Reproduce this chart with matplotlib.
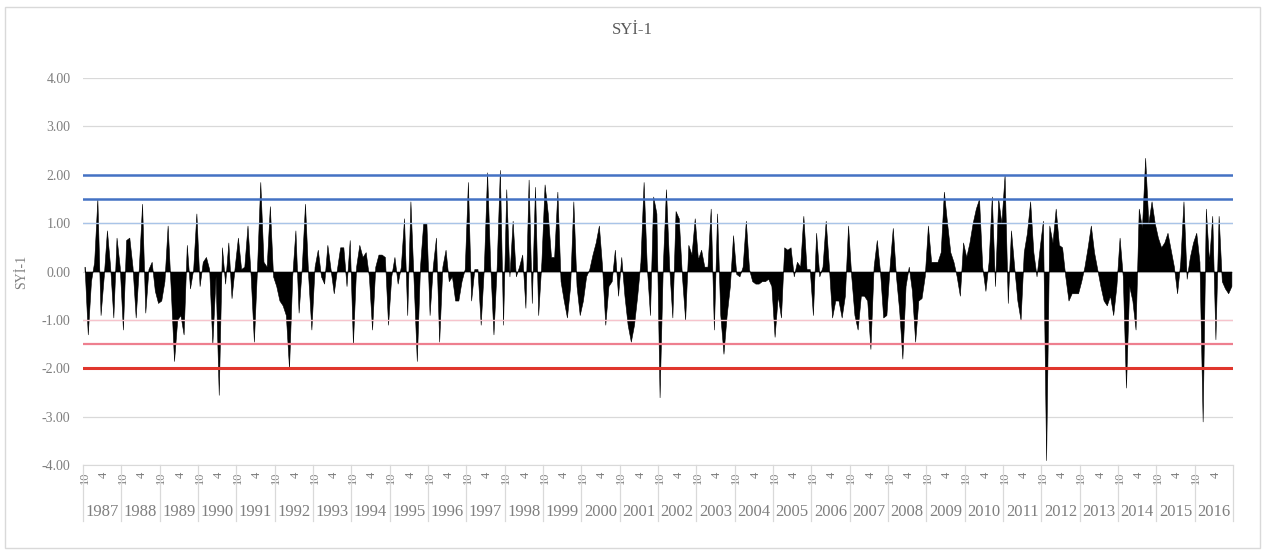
import matplotlib.pyplot as plt
import matplotlib.patches as patches
import numpy as np

# water years, Oct..Sep, SYI-1 values
years = list(range(1987, 2017))
month_labels = ["10", "4"]
spi = [
    [0.1, -1.3, -0.2, 0.2, 1.5, -0.9, -0.1, 0.85, 0.1, -0.95, 0.7, 0.1],
    [-1.2, 0.65, 0.7, 0.1, -0.95, 0.1, 1.4, -0.85, 0.05, 0.2, -0.4, -0.65],
    [-0.6, -0.2, 0.95, -0.4, -1.85, -1.0, -0.9, -1.3, 0.55, -0.35, 0.05, 1.2],
    [-0.3, 0.2, 0.3, 0.05, -1.5, -0.1, -2.55, 0.5, -0.25, 0.6, -0.55, 0.1],
    [0.7, 0.05, 0.1, 0.95, -0.1, -1.45, 0.1, 1.85, 0.2, 0.1, 1.35, -0.1],
    [-0.3, -0.6, -0.7, -0.9, -2.0, -0.1, 0.85, -0.85, 0.1, 1.4, -0.1, -1.2],
    [0.1, 0.45, -0.1, -0.25, 0.55, 0.05, -0.45, 0.05, 0.5, 0.5, -0.3, 0.65],
    [-1.5, 0.1, 0.55, 0.3, 0.4, -0.1, -1.2, 0.1, 0.35, 0.35, 0.3, -1.1],
    [-0.1, 0.3, -0.25, 0.1, 1.1, -0.9, 1.45, -0.2, -1.85, 0.1, 1.0, 1.0],
    [-0.9, 0.1, 0.7, -1.45, 0.1, 0.45, -0.2, -0.1, -0.6, -0.6, -0.2, 0.05],
    [1.85, -0.6, 0.05, 0.05, -1.1, 0.1, 2.05, 0.1, -1.3, 0.1, 2.1, -1.1],
    [1.7, -0.1, 1.05, -0.1, 0.1, 0.35, -0.75, 1.9, -0.65, 1.75, -0.9, 0.2],
    [1.8, 1.2, 0.3, 0.3, 1.65, -0.2, -0.6, -0.95, -0.3, 1.45, -0.3, -0.9],
    [-0.6, -0.1, 0.05, 0.35, 0.6, 0.95, 0.1, -1.1, -0.3, -0.2, 0.45, -0.5],
    [0.3, -0.5, -1.1, -1.45, -1.1, -0.5, 0.2, 1.85, 0.1, -0.9, 1.55, 1.2],
    [-2.6, 0.1, 1.7, 0.1, -0.95, 1.25, 1.1, -0.1, -1.0, 0.55, 0.35, 1.1],
    [0.25, 0.45, 0.1, 0.1, 1.3, -1.2, 1.2, -0.9, -1.7, -0.9, -0.3, 0.75],
    [-0.05, -0.1, 0.1, 1.05, 0.05, -0.2, -0.25, -0.25, -0.2, -0.2, -0.15, -0.3],
    [-1.35, -0.5, -0.95, 0.5, 0.45, 0.5, -0.1, 0.2, 0.1, 1.15, 0.05, 0.05],
    [-0.9, 0.8, -0.1, 0.1, 1.05, 0.1, -0.95, -0.6, -0.6, -0.95, -0.5, 0.95],
    [-0.1, -0.9, -1.2, -0.5, -0.5, -0.6, -1.6, 0.1, 0.65, 0.0, -0.95, -0.9],
    [0.1, 0.9, -0.1, -0.8, -1.8, -0.3, 0.1, -0.4, -1.45, -0.6, -0.55, -0.1],
    [0.95, 0.2, 0.2, 0.2, 0.4, 1.65, 1.0, 0.4, 0.2, -0.1, -0.5, 0.6],
    [0.3, 0.6, 1.0, 1.3, 1.5, 0.1, -0.4, 0.2, 1.55, -0.3, 1.5, 1.0],
    [2.0, -0.65, 0.85, 0.1, -0.6, -1.0, 0.4, 0.8, 1.45, 0.4, -0.1, 0.5],
    [1.05, -3.9, 0.95, 0.6, 1.3, 0.55, 0.5, -0.1, -0.6, -0.45, -0.45, -0.45],
    [-0.2, 0.1, 0.5, 0.95, 0.4, 0.05, -0.3, -0.6, -0.7, -0.5, -0.9, -0.3],
    [0.7, -0.1, -2.4, -0.3, -0.6, -1.2, 1.3, 0.9, 2.35, 1.0, 1.45, 1.0],
    [0.7, 0.5, 0.6, 0.8, 0.45, 0.1, -0.45, 0.2, 1.45, -0.15, 0.3, 0.6],
    [0.8, 0.2, -3.1, 1.3, 0.2, 1.15, -1.4, 1.15, -0.2, -0.35, -0.45, -0.3],
]
thresholds = [2.0, 1.5, 1.0, -1.0, -1.5, -2.0]
threshold_colors = ["#4472c4", "#4472c4", "#a9c4e8", "#f6c3cc", "#ee7f8f", "#e0362c"]
threshold_widths = [1.8, 1.8, 1.0, 1.0, 1.6, 2.2]

values = np.array(spi).ravel()
x = np.arange(len(values))

plt.rcParams["font.family"] = ["Liberation Serif", "DejaVu Serif"]
gray = "#7f7f7f"

fig = plt.figure(figsize=(12.65, 5.52), dpi=100)
ax = fig.add_axes([0.0656, 0.1576, 0.9091, 0.7011])

# chart area border
fig.patches.append(
    patches.Rectangle((0.004, 0.008), 0.992, 0.98, transform=fig.transFigure,
                      fill=False, edgecolor="#d9d9d9", linewidth=1.0)
)

ax.fill_between(x, values, 0, color="black", linewidth=0.4, edgecolor="black")
for t, c, w in zip(thresholds, threshold_colors, threshold_widths):
    ax.axhline(t, color=c, linewidth=w, zorder=3)

ax.set_xlim(-0.5, len(values) - 0.5)
ax.set_ylim(-4, 4)
ax.set_yticks(np.arange(-4, 4.01, 1))
ax.set_yticklabels([f"{v:.2f}" for v in np.arange(-4, 4.01, 1)])
ax.yaxis.grid(True, color="#d9d9d9", linewidth=0.9)
ax.set_axisbelow(True)
ax.tick_params(axis="y", length=0, labelsize=10, labelcolor=gray, pad=9)
for s in ["top", "right", "left"]:
    ax.spines[s].set_visible(False)
ax.spines["bottom"].set_color("#d9d9d9")

# month row
ticks = []
labels = []
for k in range(len(years)):
    ticks += [12 * k, 12 * k + 6]
    labels += month_labels
ax.set_xticks(ticks)
ax.set_xticklabels(labels, rotation=90, fontsize=9, color=gray)
ax.tick_params(axis="x", length=0, pad=5)

# year row with separators
trans = ax.get_xaxis_transform()
for k, yr in enumerate(years):
    ax.text(12 * k + 5.5, -0.122, str(yr), transform=trans, ha="center", va="center",
            fontsize=12, color=gray, clip_on=False)
    ax.plot([12 * k - 0.5, 12 * k - 0.5], [0, -0.145], transform=trans, color="#d9d9d9",
            linewidth=0.9, clip_on=False)
ax.plot([len(values) - 0.5] * 2, [0, -0.145], transform=trans, color="#d9d9d9",
        linewidth=0.9, clip_on=False)

ax.set_ylabel("SYİ-1", fontsize=10, color=gray, labelpad=10)
fig.text(0.5, 0.945, "SYİ-1", ha="center", va="center", fontsize=12, color="#595959")

plt.savefig("out.png", dpi=100)
